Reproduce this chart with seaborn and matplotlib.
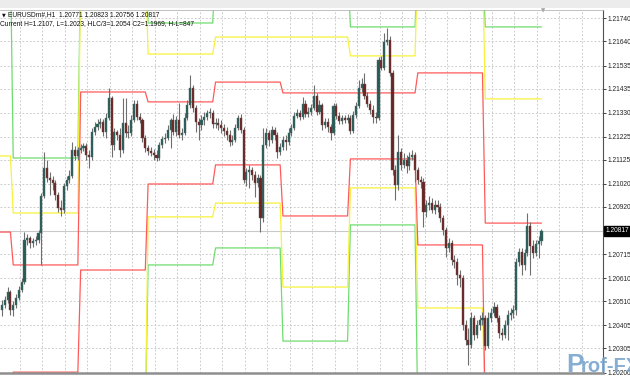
import numpy as np
import pandas as pd
import matplotlib
matplotlib.use("Agg")
import matplotlib.pyplot as plt
import matplotlib.transforms as mtransforms
from matplotlib.patches import Rectangle
import seaborn as sns

# ---------------- data (prices in points, 1 point = 0.00001) ----------------
symbol = "EURUSDm#,H1"
first_open = 120472
close_pts = [
    120494, 120516, 120550, 120472, 120494, 120524, 120559, 120594, 120777, 120785,
    120763, 120772, 120777, 120807, 120968, 121090, 121046, 121037, 121024, 120972,
    120916, 120907, 121011, 121037, 121055, 121168, 121142, 121168, 121177, 121185,
    121146, 121137, 121246, 121268, 121281, 121290, 121246, 121307, 121394, 121190,
    121246, 121233, 121168, 121285, 121242, 121242, 121298, 121368, 121311, 121298,
    121220, 121177, 121163, 121155, 121146, 121133, 121190, 121216, 121220, 121255,
    121298, 121246, 121298, 121233, 121242, 121307, 121364, 121437, 121350, 121290,
    121276, 121298, 121311, 121329, 121329, 121281, 121285, 121276, 121263, 121250,
    121233, 121203, 121211, 121263, 121307, 121255, 121037, 121072, 121081, 121059,
    121024, 121046, 120872, 121190, 121242, 121211, 121255, 121233, 121159, 121181,
    121211, 121203, 121242, 121263, 121316, 121329, 121311, 121368, 121324, 121333,
    121350, 121403, 121333, 121364, 121276, 121290, 121268, 121242, 121359, 121316,
    121294, 121307, 121298, 121307, 121250, 121320, 121359, 121437, 121455, 121403,
    121368, 121342, 121311, 121307, 121559, 121524, 121637, 121646, 121503, 121081,
    121016, 121159, 121103, 121124, 121098, 121137, 121146, 121081, 121037, 121029,
    120898, 120929, 120937, 120907, 120929, 120920, 120872, 120820, 120742, 120763,
    120690, 120681, 120624, 120611, 120407, 120342, 120320, 120437, 120363, 120407,
    120429, 120437, 120316, 120437, 120459, 120485, 120437, 120372, 120363, 120407,
    120450, 120459, 120472, 120681, 120724, 120668, 120720, 120837, 120750, 120720,
    120759, 120771, 120817,
]
high_pts = [
    120516, 120533, 120572, 120559, 120511, 120542, 120577, 120611, 120811, 120803,
    120794, 120785, 120794, 120820, 120981, 121159, 121124, 121072, 121055, 121037,
    120985, 120950, 121024, 121055, 121081, 121203, 121185, 121181, 121194, 121198,
    121198, 121168, 121263, 121290, 121303, 121307, 121303, 121329, 121437, 121403,
    121263, 121255, 121263, 121394, 121394, 121276, 121320, 121385, 121385, 121329,
    121307, 121233, 121190, 121181, 121172, 121168, 121203, 121229, 121242, 121276,
    121307, 121324, 121316, 121372, 121263, 121329, 121385, 121494, 121450, 121364,
    121307, 121320, 121333, 121342, 121350, 121342, 121307, 121307, 121298, 121281,
    121268, 121255, 121233, 121281, 121320, 121324, 121268, 121090, 121103, 121094,
    121076, 121063, 121059, 121263, 121263, 121255, 121272, 121268, 121246, 121198,
    121229, 121233, 121263, 121281, 121333, 121346, 121342, 121398, 121385, 121355,
    121368, 121450, 121416, 121385, 121372, 121307, 121307, 121281, 121372, 121372,
    121333, 121320, 121320, 121324, 121320, 121337, 121377, 121472, 121481, 121503,
    121420, 121385, 121364, 121333, 121572, 121577, 121677, 121698, 121663, 121516,
    121103, 121233, 121177, 121155, 121146, 121159, 121168, 121159, 121094, 121055,
    121046, 120950, 120968, 120959, 120950, 120950, 120937, 120885, 120833, 120785,
    120777, 120711, 120698, 120646, 120624, 120429, 120394, 120463, 120450, 120429,
    120450, 120463, 120450, 120463, 120481, 120507, 120498, 120450, 120394, 120429,
    120472, 120481, 120494, 120698, 120742, 120742, 120737, 120894, 120855, 120777,
    120777, 120794, 120823,
]
low_pts = [
    120446, 120481, 120503, 120450, 120446, 120481, 120516, 120550, 120585, 120755,
    120742, 120746, 120755, 120763, 120668, 120959, 121029, 120972, 120994, 120950,
    120898, 120881, 120894, 120994, 121024, 121046, 121124, 121124, 121155, 121163,
    121124, 121090, 121124, 121233, 121255, 121263, 121229, 121220, 121298, 121137,
    121168, 121211, 121137, 121155, 121224, 121220, 121229, 121290, 121298, 121285,
    121203, 121159, 121146, 121142, 121124, 121120, 121124, 121177, 121198, 121211,
    121177, 121233, 121229, 121220, 121211, 121233, 121298, 121350, 121333, 121246,
    121211, 121255, 121276, 121298, 121307, 121263, 121263, 121255, 121242, 121229,
    121211, 121185, 121190, 121203, 121255, 121242, 121024, 121011, 121003, 121037,
    120963, 121007, 120811, 120855, 121177, 121185, 121198, 121211, 121133, 121146,
    121168, 121168, 121190, 121229, 121255, 121307, 121298, 121303, 121311, 121311,
    121320, 121342, 121320, 121324, 121255, 121263, 121246, 121211, 121233, 121303,
    121281, 121281, 121285, 121285, 121237, 121242, 121307, 121350, 121420, 121390,
    121355, 121324, 121285, 121285, 121298, 121516, 121516, 121624, 121490, 121059,
    120950, 120994, 121081, 121090, 121068, 121081, 121124, 121029, 121020, 121003,
    120833, 120877, 120907, 120894, 120890, 120898, 120855, 120798, 120703, 120724,
    120668, 120655, 120581, 120572, 120385, 120320, 120233, 120307, 120342, 120350,
    120385, 120407, 120298, 120307, 120420, 120446, 120420, 120350, 120342, 120350,
    120342, 120429, 120437, 120450, 120663, 120624, 120646, 120707, 120624, 120698,
    120707, 120698, 120756,
]

# bars per day for the daily level lines (first day includes one bar left of view)
bars_per_day = [5, 24, 24, 24, 24, 24, 24, 24, 21]
# daily levels (points); 122000 = above the view, 120000 = below the view
green_upper = [122000, 121133, 122000, 121720, 122000, 122000, 121703, 122000, 121703]
green_lower = [120000, 120000, 120000, 120668, 120742, 120337, 120842, 120000, 120000]
yellow_upper = [121142, 120894, 122000, 121585, 121659, 121659, 121577, 122000, 121390]
yellow_lower = [120000, 120000, 120000, 120877, 120937, 120572, 121003, 120481, 120000]
red_upper = [120811, 120668, 121420, 121377, 121463, 121416, 121416, 121503, 120850]
red_lower = [120000, 120202, 120646, 121020, 121103, 120881, 121129, 120755, 120000]

price_ticks = [1.21740, 1.21640, 1.21535, 1.21435, 1.21330, 1.21225, 1.21125, 1.21020,
               1.20920, 1.20715, 1.20610, 1.20510, 1.20405, 1.20305, 1.20200]
info_line = "Current H=1.2107, L=1.2023, HLC/3=1.2054 C2=1.1969, H-L=847"
watermark_head = "P"
watermark_tail = "rof-FX"

# ---------------- figure ----------------
sns.set_theme(style="white")
plt.rcParams['font.family'] = ['Liberation Sans', 'DejaVu Sans']

closes = np.array(close_pts) / 1e5
highs = np.array(high_pts) / 1e5
lows = np.array(low_pts) / 1e5
opens = np.array([first_open] + close_pts[:-1]) / 1e5
n = len(closes)
idx = np.arange(n)

fig = plt.figure(figsize=(6.3, 3.8), dpi=100, facecolor='white')
ax = fig.add_axes([0.0, 7 / 380, 603 / 630, 363 / 380])
ax.set_facecolor('white')

# top window band
fig.patches.append(Rectangle((0, 1 - 7.5 / 380), 1, 7.5 / 380, transform=fig.transFigure,
                             facecolor='#ececec', edgecolor='none', zorder=0))

# daily level lines via seaborn
lvl_x = np.arange(-1, n)
for vals, col in [(green_upper, '#6fdc6f'), (green_lower, '#6fdc6f'),
                  (yellow_upper, '#f7f23a'), (yellow_lower, '#f7f23a'),
                  (red_upper, '#ff5a5a'), (red_lower, '#ff5a5a')]:
    df = pd.DataFrame({'bar': lvl_x, 'level': np.repeat(np.array(vals) / 1e5, bars_per_day)})
    sns.lineplot(data=df, x='bar', y='level', color=col, linewidth=0.9, ax=ax,
                 estimator=None, sort=False, zorder=2)

# current price line
last_close = closes[-1]
ax.axhline(last_close, color='#c9c9c9', lw=0.8, zorder=1)

# candles
up = closes >= opens
ax.vlines(idx, lows, highs, color='#6e6e6e', lw=0.8, zorder=3)
body_bottom = np.minimum(opens, closes)
body_h = np.maximum(np.abs(closes - opens), 0.00002)
ax.bar(idx[up], body_h[up], bottom=body_bottom[up], width=0.75, color='#2a5b57',
       edgecolor='#4a6e6a', linewidth=0.3, zorder=4)
ax.bar(idx[~up], body_h[~up], bottom=body_bottom[~up], width=0.75, color='#6c2525',
       edgecolor='#6a4a4a', linewidth=0.3, zorder=4)

# axes / grid
ax.set_xlim(-0.71, 213.9)
ax.set_ylim(1.201982, 1.217765)
ax.set_xticks(np.arange(6.4, 213, 8))
ax.set_xticklabels([])
ax.tick_params(axis='x', length=0)
ax.yaxis.tick_right()
ax.set_yticks(price_ticks)
ax.set_yticklabels([f"{t:.5f}" for t in price_ticks])
ax.tick_params(axis='y', length=2, width=0.6, pad=1.5, labelsize=4.8, colors='#222222')
ax.grid(True, color='#c4c4c4', linestyle=(0, (2.2, 2.2)), linewidth=0.6, zorder=0)
ax.set_axisbelow(True)
ax.set_xlabel('')
ax.set_ylabel('')
ax.spines['left'].set_visible(False)
ax.spines['top'].set_color('#b5b5b5')
ax.spines['top'].set_linewidth(0.6)
ax.spines['right'].set_color('#505050')
ax.spines['right'].set_linewidth(0.8)
ax.spines['bottom'].set_color('#8e8e8e')
ax.spines['bottom'].set_linewidth(1.8)

# current price box on the axis
trans = mtransforms.blended_transform_factory(ax.transAxes, ax.transData)
ax.text(1.004, last_close, f"{last_close:.5f}", transform=trans, fontsize=4.8, color='white',
        va='center', ha='left', zorder=10, clip_on=False,
        bbox=dict(boxstyle='square,pad=0.25', facecolor='black', edgecolor='black'))

# header texts
fig.text(1.5 / 630, 1 - 15 / 380, "▼", fontsize=3.5, color='#111111', va='center',
         family=['DejaVu Sans'])
fig.text(8 / 630, 1 - 15 / 380,
         f"{symbol}  {opens[-1]:.5f} {highs[-1]:.5f} {lows[-1]:.5f} {closes[-1]:.5f}",
         fontsize=4.8, color='#111111', va='center')
fig.text(0.5 / 630, 1 - 24 / 380, info_line, fontsize=4.8, color='#111111', va='center')

# chart-shift marker
fig.text(543 / 630, 1 - 11 / 380, "▼", fontsize=4, color='#a8a8a8', va='center', ha='center',
         family=['DejaVu Sans'])

# watermark (partly cut by the right edge, as in the reference)
fig.text(566 / 630, 1 - 372 / 380, watermark_head, fontsize=19, fontweight='bold',
         color='#79a4cd', alpha=0.9, va='baseline', ha='left', zorder=20)
fig.text(581 / 630, 1 - 372 / 380, watermark_tail, fontsize=14.5, fontweight='bold',
         color='#79a4cd', alpha=0.9, va='baseline', ha='left', zorder=20)

fig.savefig('out.png', dpi=100, facecolor='white')
